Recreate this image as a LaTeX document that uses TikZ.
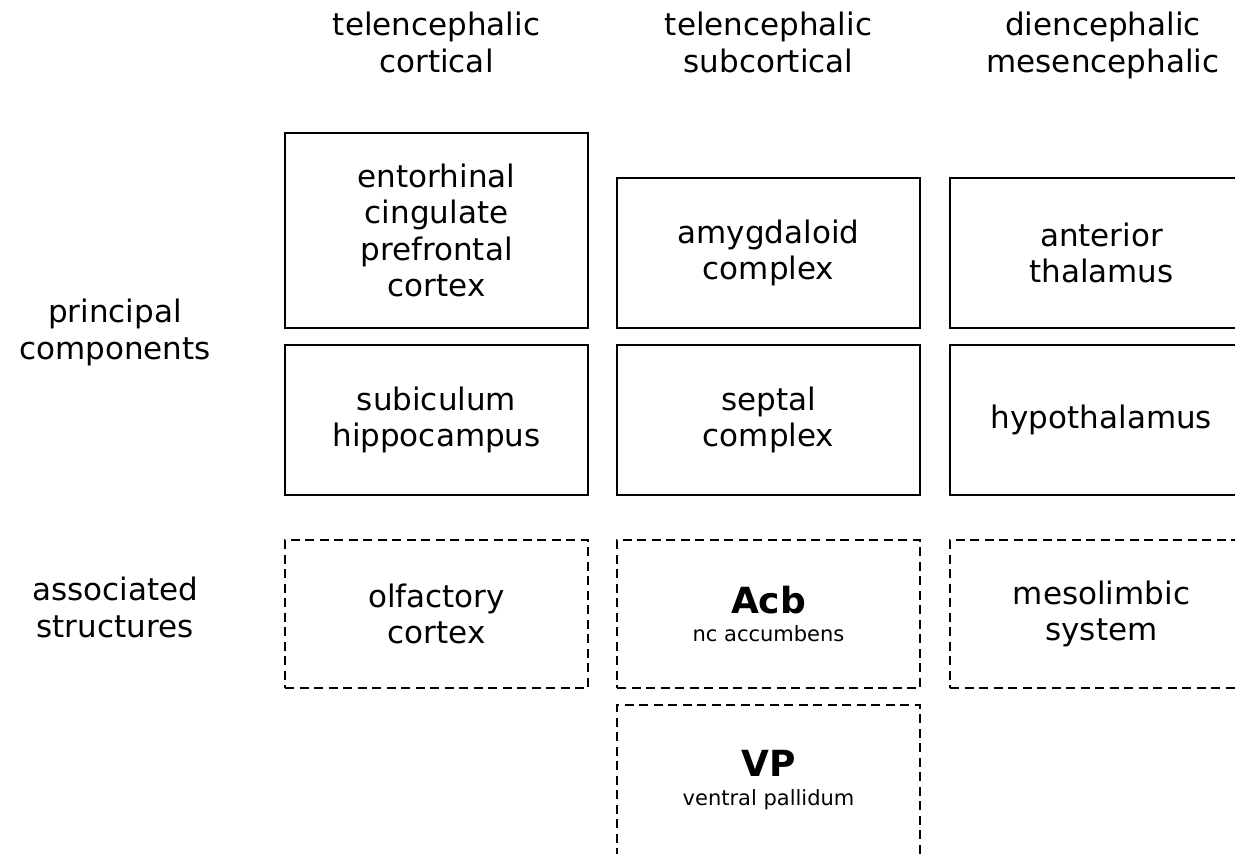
\documentclass[tikz,border=0pt]{standalone}
\usepackage{fontspec}
\setmainfont{DejaVu Sans}
\begin{document}
\begin{tikzpicture}[x=1pt,y=-1pt,
  box/.style={draw, line width=2pt, align=center, inner sep=0pt,
    minimum width=303pt, minimum height=150pt, font=\fontsize{31}{36.5}\selectfont},
  dbox/.style={box, dash pattern=on 9pt off 5.5pt},
  hdr/.style={align=center, inner sep=0pt, anchor=north, font=\fontsize{31}{37}\selectfont}]
\useasboundingbox (0,0) rectangle (1235,854);
% headers
\node[hdr] (h1) at (436.5,12) {telencephalic\\cortical};
\node[hdr] (h2) at (768.5,12) {telencephalic\\subcortical};
\node[hdr] (h3) at (1103,12) {diencephalic\\mesencephalic};
% row labels
\node[hdr] (r1) at (115,299) {principal\\components};
\node[hdr] (r2) at (115,577) {associated\\structures};
% column 1
\node[box, minimum height=195pt] (ctx) at (436.5,230.5) {entorhinal\\cingulate\\prefrontal\\cortex};
\node[box] (hip) at (436.5,420) {subiculum\\hippocampus};
\node[dbox, minimum height=148pt] (olf) at (436.5,614) {olfactory\\cortex};
% column 2
\node[box] (amy) at (768.5,253) {amygdaloid\\complex};
\node[box] (sep) at (768.5,420) {septal\\complex};
\node[dbox, minimum height=148pt] (acb) at (768.5,614) {{\fontsize{36}{36}\selectfont\bfseries Acb}\\[-8pt]{\fontsize{21}{25}\selectfont nc accumbens}};
\node[dbox] (vp) at (768.5,780) {{\fontsize{36}{36}\selectfont\bfseries VP}\\[-8pt]{\fontsize{21}{25}\selectfont ventral pallidum}};
% column 3
\node[box] (ath) at (1101.5,253) {anterior\\thalamus};
\node[box] (hyp) at (1101.5,420) {hypothalamus};
\node[dbox, minimum height=148pt] (mes) at (1101.5,614) {mesolimbic\\system};
\end{tikzpicture}
\end{document}
